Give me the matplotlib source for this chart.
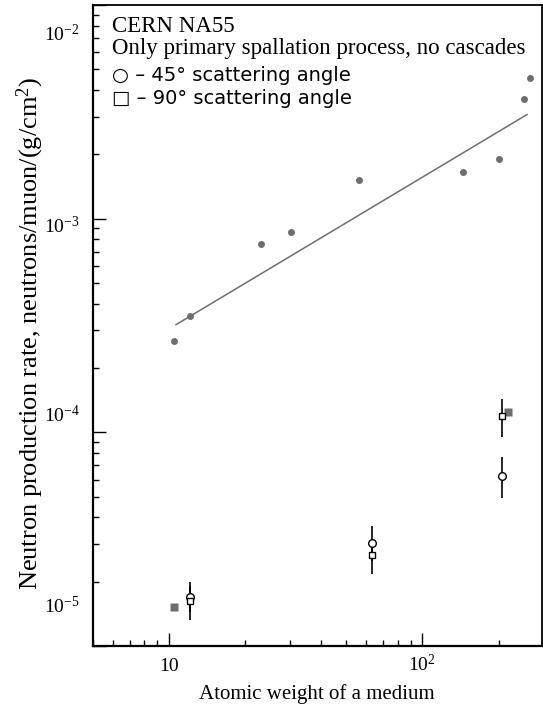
import numpy as np
import matplotlib.pyplot as plt

plt.rcParams['font.family'] = ['Liberation Serif', 'DejaVu Sans']
plt.rcParams['mathtext.fontset'] = 'custom'
plt.rcParams['mathtext.rm'] = 'Liberation Serif'
plt.rcParams['mathtext.it'] = 'Liberation Serif:italic'

# filled grey points and fitted power law
dot_A = [10.5, 12.1, 23.0, 30.2, 56.0, 145, 200, 252, 266]
dot_rate = [2.68e-4, 3.5e-4, 7.6e-4, 8.7e-4, 1.52e-3, 1.66e-3, 1.91e-3, 3.65e-3, 4.53e-3]
fit_A = [10.66, 259]
fit_rate = [3.19e-4, 3.07e-3]

# NA55: 45 deg (circles) and 90 deg (squares)
na55_A = [12.1, 63.5, 207]
c45_rate = [1.70e-5, 3.05e-5, 6.28e-5]
c45_lo = [1.45e-5, 2.50e-5, 4.93e-5]
c45_hi = [2.00e-5, 3.65e-5, 7.67e-5]
s90_rate = [1.63e-5, 2.66e-5, 1.19e-4]
s90_lo = [1.33e-5, 2.17e-5, 9.53e-5]
s90_hi = [1.90e-5, 3.10e-5, 1.43e-4]

# filled grey squares
sq_A = [10.5, 218]
sq_rate = [1.53e-5, 1.245e-4]

ytick_vals = [1e-2, 1e-3, 1e-4, 1e-5]
ytick_text = [r'$\mathregular{10^{-2}}$', r'$\mathregular{10^{-3}}$',
              r'$\mathregular{10^{-4}}$', r'$\mathregular{10^{-5}}$']
ytick_shift = [-36, -14, 10, 33]   # label offsets in pixels, as in the original

grey = '#6e6e6e'

fig = plt.figure(figsize=(5.43, 7.10), dpi=100)
ax = fig.add_axes([0.1707, 0.0901, 0.8269, 0.9029])
ax.set_xscale('log')
ax.set_yscale('log')
ax.set_xlim(5, 296)
ax.set_ylim(1e-5, 1e-2)

ax.plot(fit_A, fit_rate, color=grey, lw=1.1)
ax.plot(dot_A, dot_rate, 'o', color=grey, ms=5, mec='none')
ax.plot(sq_A, sq_rate, 's', color=grey, ms=5.2, mec='none')

c45 = np.array(c45_rate)
s90 = np.array(s90_rate)
ax.errorbar(na55_A, c45, yerr=[c45 - np.array(c45_lo), np.array(c45_hi) - c45],
            fmt='o', ms=5.5, mfc='white', mec='black', mew=1, ecolor='black', elinewidth=1.2, capsize=0)
ax.errorbar(na55_A, s90, yerr=[s90 - np.array(s90_lo), np.array(s90_hi) - s90],
            fmt='s', ms=5, mfc='white', mec='black', mew=1, ecolor='black', elinewidth=1.2, capsize=0)

# ticks
ax.tick_params(which='both', direction='in', top=False, right=False, width=1)
ax.tick_params(which='major', length=9.4)
ax.tick_params(which='minor', length=4.5)
ax.set_xticks([10, 100], labels=['10', r'$\mathregular{10^{2}}$'], fontsize=14)
for lab in ax.get_xticklabels():
    lab.set_verticalalignment('baseline')
ax.tick_params(axis='x', which='major', pad=18)
ax.set_yticks(ytick_vals, labels=['', '', '', ''])
for v, t, dy in zip(ytick_vals, ytick_text, ytick_shift):
    ax.annotate(t, xy=(0, v), xycoords=('axes fraction', 'data'),
                xytext=(-13, dy), textcoords='offset pixels',
                ha='right', va='baseline', fontsize=14)

for s in ['left', 'bottom']:
    ax.spines[s].set_linewidth(1.6)
for s in ['top', 'right']:
    ax.spines[s].set_linewidth(1.3)

ax.set_xlabel('Atomic weight of a medium', fontsize=15)
ax.xaxis.set_label_coords(0.5, -0.059)
ax.set_ylabel('Neutron production rate, neutrons/muon/(g/cm$^2$)', fontsize=19)
ax.yaxis.set_label_coords(-0.104, 0.488)

ax.text(0.043, 0.966, 'CERN NA55', transform=ax.transAxes, fontsize=16.5, va='center')
ax.text(0.043, 0.9315, 'Only primary spallation process, no cascades', transform=ax.transAxes,
        fontsize=16.5, va='center')
ax.text(0.043, 0.890, '\u25cb \u2013 45\u00b0 scattering angle', transform=ax.transAxes,
        fontsize=14, va='center', family='DejaVu Sans')
ax.text(0.043, 0.854, '\u25a1 \u2013 90\u00b0 scattering angle', transform=ax.transAxes,
        fontsize=14, va='center', family='DejaVu Sans')

fig.savefig('out.png', dpi=100)
